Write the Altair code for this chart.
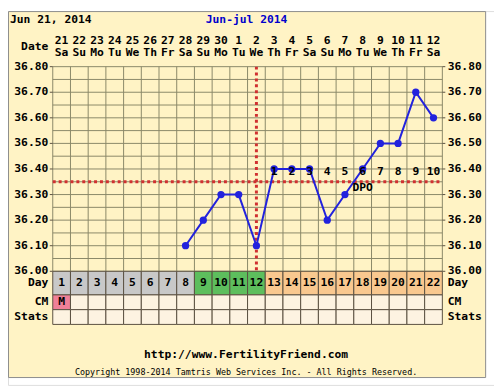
import altair as alt
import pandas as pd

# ---------------- data ----------------
days = [1, 2, 3, 4, 5, 6, 7, 8, 9, 10, 11, 12, 13, 14, 15, 16, 17, 18, 19, 20, 21, 22]
dates = ["21", "22", "23", "24", "25", "26", "27", "28", "29", "30", "1",
         "2", "3", "4", "5", "6", "7", "8", "9", "10", "11", "12"]
weekdays = ["Sa", "Su", "Mo", "Tu", "We", "Th", "Fr", "Sa", "Su", "Mo", "Tu",
            "We", "Th", "Fr", "Sa", "Su", "Mo", "Tu", "We", "Th", "Fr", "Sa"]
phases = ["pre", "pre", "pre", "pre", "pre", "pre", "pre", "pre",
          "fertile", "fertile", "fertile", "fertile",
          "post", "post", "post", "post", "post", "post", "post", "post", "post", "post"]
cm_values = ["M", "", "", "", "", "", "", "", "", "", "", "", "", "", "", "", "", "", "", "", "", ""]

temp_days = [8, 9, 10, 11, 12, 13, 14, 15, 16, 17, 18, 19, 20, 21, 22]
temps = [36.10, 36.20, 36.30, 36.30, 36.10, 36.40, 36.40, 36.40, 36.20, 36.30,
         36.40, 36.50, 36.50, 36.70, 36.60]

dpo_days = [13, 14, 15, 16, 17, 18, 19, 20, 21, 22]
dpo_labels = ["1", "2", "3", "4", "5", "6", "7", "8", "9", "10"]
dpo_title_day = 18

coverline = 36.35
ovulation_day = 12

tick_values = [36.00, 36.10, 36.20, 36.30, 36.40, 36.50, 36.60, 36.70, 36.80]
tick_labels = ["36.00", "36.10", "36.20", "36.30", "36.40", "36.50", "36.60", "36.70", "36.80"]
minor_values = [36.05, 36.15, 36.25, 36.35, 36.45, 36.55, 36.65, 36.75]
col_bounds = [d - 0.5 for d in days] + [days[-1] + 0.5]

# ---------------- style ----------------
FONT = "DejaVu Sans Mono"
BG = "#FFF3C5"
GRID = "#8A8868"
TABLE = "#5A5040"
RED = "#D03030"
BLUE = "#2222DD"
GRAY = "#C8C8C8"
GREEN = "#5DBE5D"
PEACH = "#F9C88F"
PINK = "#F08098"
CREAM = "#FDF3E1"

XS = alt.Scale(domain=[0.5, 22.5], range=[45.5, 441.5], nice=False, zero=False)
YS = alt.Scale(domain=[36.0, 36.8], range=[264.5, 56.5], nice=False, zero=False)


def X(f):
    return alt.X(f, type="quantitative", scale=XS, axis=None)


def Y(f):
    return alt.Y(f, type="quantitative", scale=YS, axis=None)


table = pd.DataFrame({"day": days, "date": dates, "wd": weekdays,
                      "phase": phases, "cm": cm_values})
table["x0"] = table["day"] - 0.5
table["x1"] = table["day"] + 0.5
temp_df = pd.DataFrame({"day": temp_days, "temp": temps})
dpo_df = pd.DataFrame({"day": dpo_days, "lab": dpo_labels})
ticks_df = pd.DataFrame({"t": tick_values, "lab": tick_labels})
grid_df = pd.DataFrame({"t": tick_values + minor_values})
bounds_df = pd.DataFrame({"b": col_bounds})
ONE = pd.DataFrame({"a": [1]})


def label(txt, x, y, align="left", size=11.5, color="black", weight="bold"):
    return alt.Chart(ONE).mark_text(
        text=txt, align=align, baseline="middle", font=FONT, fontSize=size,
        fontWeight=weight, color=color
    ).encode(x=alt.value(x), y=alt.value(y))


frame = alt.Chart(ONE).mark_rect(fill=BG, stroke="#8C8C8C", strokeWidth=1).encode(
    x=alt.value(0.5), x2=alt.value(485.5), y=alt.value(0.5), y2=alt.value(372.5))

h_grid = alt.Chart(grid_df).mark_rule(color=GRID, strokeWidth=1).encode(
    y=Y("t"), x=alt.value(45.5), x2=alt.value(441.5))
major_ticks_l = alt.Chart(ticks_df).mark_rule(color=TABLE, strokeWidth=1).encode(
    y=Y("t"), x=alt.value(42.5), x2=alt.value(45.5))
major_ticks_r = alt.Chart(ticks_df).mark_rule(color=TABLE, strokeWidth=1).encode(
    y=Y("t"), x=alt.value(441.5), x2=alt.value(444.5))
v_grid = alt.Chart(bounds_df).mark_rule(color=GRID, strokeWidth=1).encode(
    x=X("b"), y=alt.value(56.5), y2=alt.value(264.5))

day_cells = alt.Chart(table).mark_rect(stroke=TABLE, strokeWidth=1).encode(
    x=X("x0"), x2=alt.X2("x1"), y=alt.value(264.5), y2=alt.value(288.5),
    fill=alt.Fill("phase:N", scale=alt.Scale(domain=["pre", "fertile", "post"],
                                             range=[GRAY, GREEN, PEACH]), legend=None))
cm_cells = alt.Chart(table).mark_rect(stroke=TABLE, strokeWidth=1).encode(
    x=X("x0"), x2=alt.X2("x1"), y=alt.value(288.5), y2=alt.value(303.5),
    fill=alt.condition(alt.datum.cm == "M", alt.value(PINK), alt.value(CREAM)))
stats_cells = alt.Chart(table).mark_rect(stroke=TABLE, strokeWidth=1, fill=CREAM).encode(
    x=X("x0"), x2=alt.X2("x1"), y=alt.value(303.5), y2=alt.value(318.5))

txt_kw = dict(baseline="middle", font=FONT, fontSize=11.5, fontWeight="bold", color="black")
day_nums = alt.Chart(table).mark_text(**txt_kw).encode(
    x=X("day"), y=alt.value(276.5), text="day:N")
cm_text = alt.Chart(table).mark_text(**txt_kw).encode(
    x=X("day"), y=alt.value(296), text="cm:N")
date_text = alt.Chart(table).mark_text(**txt_kw).encode(
    x=X("day"), y=alt.value(30), text="date:N")
wd_text = alt.Chart(table).mark_text(**txt_kw).encode(
    x=X("day"), y=alt.value(43), text="wd:N")

cover = alt.Chart(pd.DataFrame({"c": [coverline]})).mark_rule(
    color=RED, strokeWidth=3, strokeDash=[3, 3]).encode(
    y=Y("c"), x=alt.value(45.5), x2=alt.value(441.5))
ovul = alt.Chart(pd.DataFrame({"d": [ovulation_day]})).mark_rule(
    color=RED, strokeWidth=3, strokeDash=[3, 3]).encode(
    x=X("d"), y=alt.value(56.5), y2=alt.value(264.5))

line = alt.Chart(temp_df).mark_line(color=BLUE, strokeWidth=2).encode(
    x=X("day"), y=Y("temp"))
pts = alt.Chart(temp_df).mark_circle(color=BLUE, size=55, opacity=1).encode(
    x=X("day"), y=Y("temp"))

dpo_text = alt.Chart(dpo_df).mark_text(**txt_kw).encode(
    x=X("day"), y=alt.value(163.5), text="lab:N")
dpo_title = alt.Chart(pd.DataFrame({"day": [dpo_title_day]})).mark_text(
    text="DPO", **txt_kw).encode(x=X("day"), y=alt.value(180))

ylab_l = alt.Chart(ticks_df).mark_text(align="right", **txt_kw).encode(
    x=alt.value(41), y=Y("t"), text="lab:N")
ylab_r = alt.Chart(ticks_df).mark_text(align="left", **txt_kw).encode(
    x=alt.value(447), y=Y("t"), text="lab:N")

labels = [
    label("Jun 21, 2014", 2, 9),
    label("Jun-jul 2014", 242.5, 9, align="center", color="#0000CC"),
    label("Date", 41, 37, align="right"),
    label("Day", 41, 276.5, align="right"),
    label("CM", 41, 296, align="right"),
    label("Stats", 41, 311, align="right"),
    label("Day", 447, 276.5),
    label("CM", 447, 296),
    label("Stats", 447, 311),
    label("http://www.FertilityFriend.com", 242, 350, align="center"),
    label("Copyright 1998-2014 Tamtris Web Services Inc. - All Rights Reserved.",
          242, 367, align="center", size=8.5, weight="normal"),
]

chart = alt.layer(
    frame, h_grid, v_grid, major_ticks_l, major_ticks_r,
    day_cells, cm_cells, stats_cells,
    cover, ovul, line, pts,
    day_nums, cm_text, date_text, wd_text, dpo_text, dpo_title,
    ylab_l, ylab_r, *labels
).properties(
    width=494, height=380,
    autosize=alt.AutoSizeParams(type="none"),
    padding=0,
).configure_view(stroke=None).configure(background="white")

chart.save("out.html", embed_options={"renderer": "svg", "actions": False})
